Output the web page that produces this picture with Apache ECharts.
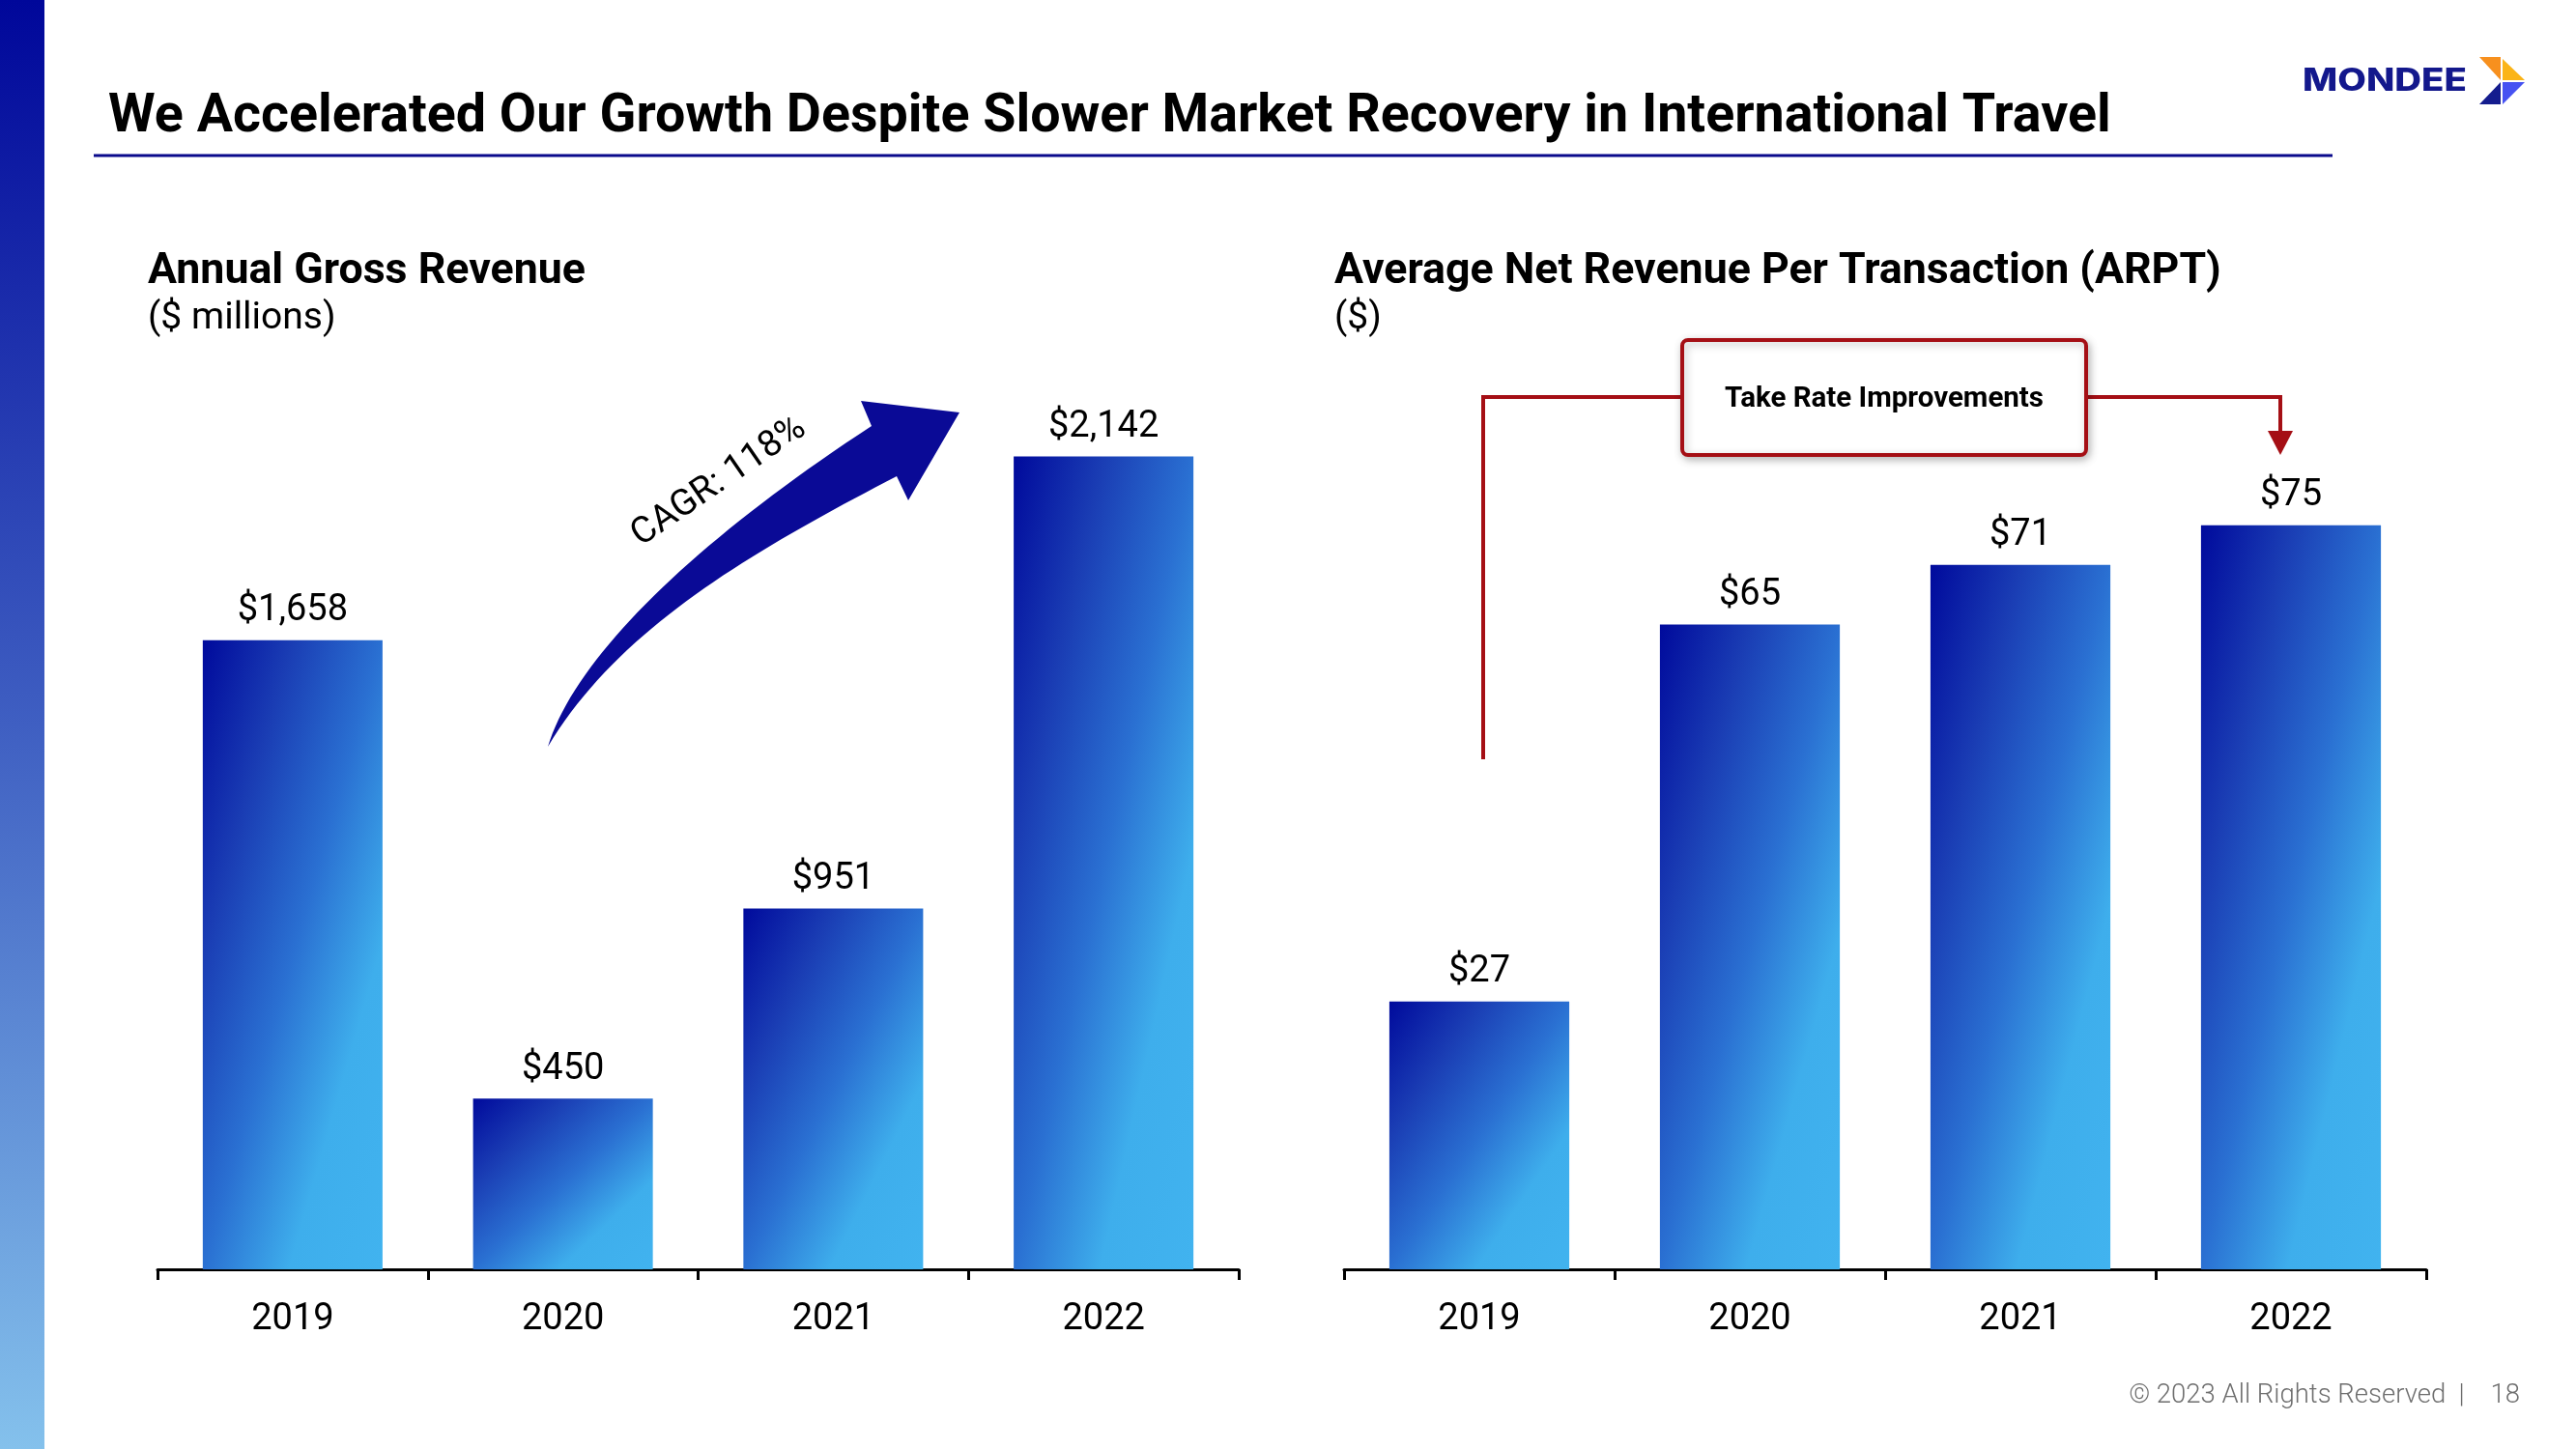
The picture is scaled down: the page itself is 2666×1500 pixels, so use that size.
<!DOCTYPE html>
<html><head><meta charset="utf-8">
<script src="https://cdn.jsdelivr.net/npm/echarts@6/dist/echarts.min.js"></script>
<style>html,body{margin:0;padding:0;background:#fff;} #c{width:2666px;height:1500px;}</style>
</head><body><div id="c"></div>
<script>
// ---- data ----
const years = ['2019', '2020', '2021', '2022'];
const grossRevenue = [1658, 450, 951, 2142];   // $ millions
const arpt = [27, 65, 71, 75];                  // $
const mainTitle = 'We Accelerated Our Growth Despite Slower Market Recovery in International Travel';
const leftTitle = 'Annual Gross Revenue';
const leftSub = '($ millions)';
const rightTitle = 'Average Net Revenue Per Transaction (ARPT)';
const rightSub = '($)';
const cagrText = 'CAGR: 118%';
const calloutText = 'Take Rate Improvements';
const footerText = '\u00A9 2023 All Rights Reserved  |    18';

const FONT = 'Roboto';
const barStops = [
  {offset: 0, color: '#000a9c'},
  {offset: 0.25, color: '#1a3db4'},
  {offset: 0.5, color: '#2a70d2'},
  {offset: 0.74, color: '#3eaeec'},
  {offset: 1, color: '#41b3ef'}
];
const RED = '#a50f15';

const chart = echarts.init(document.getElementById('c'), null, {renderer: 'canvas'});

function fmtMoney(v) { return '$' + Number(v).toLocaleString('en-US'); }

// cubic bezier sampler for the decorative CAGR arrow outline
function bez(p0, p1, p2, p3, n) {
  const out = [];
  for (let i = 0; i <= n; i++) {
    const t = i / n, u = 1 - t;
    out.push([
      u*u*u*p0[0] + 3*u*u*t*p1[0] + 3*u*t*t*p2[0] + t*t*t*p3[0],
      u*u*u*p0[1] + 3*u*u*t*p1[1] + 3*u*t*t*p2[1] + t*t*t*p3[1]
    ]);
  }
  return out;
}
const arrowPts = [].concat(
  bez([567, 773], [595, 680], [720, 560], [902, 441], 40),
  [[891, 415], [993, 427], [940, 518]],
  bez([928, 493], [780, 570], [640, 650], [567, 773], 40)
);

function xAx(gi) {
  return {
    type: 'category', gridIndex: gi, data: years,
    axisLine: {show: true, lineStyle: {color: '#000', width: 3}},
    axisTick: {show: true, length: 11, lineStyle: {color: '#000', width: 3}},
    axisLabel: {fontFamily: FONT, fontSize: 38, color: '#000', margin: 33}
  };
}
function yAx(gi, max) {
  return {type: 'value', gridIndex: gi, min: 0, max: max, show: false, splitLine: {show: false}};
}
function barSeries(data, idx) {
  return {
    type: 'bar', xAxisIndex: idx, yAxisIndex: idx, data: data, barWidth: '66.5%',
    itemStyle: {color: new echarts.graphic.LinearGradient(0, 0, 1, 1, barStops)},
    label: {show: true, position: 'top', distance: 11, fontFamily: FONT, fontSize: 38, color: '#000',
      formatter: p => fmtMoney(p.value)},
    emphasis: {disabled: true}, animation: false
  };
}

const option = {
  animation: false,
  backgroundColor: '#fff',
  textStyle: {fontFamily: FONT},
  title: [
    {text: mainTitle, left: 112, top: 89, padding: 0,
      textStyle: {fontFamily: FONT, fontSize: 55.6, fontWeight: 'bold', color: '#000', lineHeight: 66}},
    {text: leftTitle, subtext: leftSub, left: 153, top: 256, padding: 0, itemGap: -2,
      textStyle: {fontFamily: FONT, fontSize: 44.7, fontWeight: 'bold', color: '#000', lineHeight: 52},
      subtextStyle: {fontFamily: FONT, fontSize: 39, color: '#000', lineHeight: 48}},
    {text: rightTitle, subtext: rightSub, left: 1381, top: 256, padding: 0, itemGap: -2,
      textStyle: {fontFamily: FONT, fontSize: 44.7, fontWeight: 'bold', color: '#000', lineHeight: 52},
      subtextStyle: {fontFamily: FONT, fontSize: 39, color: '#000', lineHeight: 48}}
  ],
  grid: [
    {left: 163, right: 1384, top: 332, bottom: 186, containLabel: false, outerBoundsMode: 'none'},
    {left: 1391, right: 155, top: 287, bottom: 186, containLabel: false, outerBoundsMode: 'none'}
  ],
  xAxis: [xAx(0), xAx(1)],
  yAxis: [yAx(0, 2500), yAx(1, 100)],
  series: [barSeries(grossRevenue, 0), barSeries(arpt, 1)],
  graphic: [
    // left sidebar
    {type: 'rect', shape: {x: 0, y: 0, width: 46, height: 1500}, silent: true,
      style: {fill: new echarts.graphic.LinearGradient(0, 0, 0, 1, [
        {offset: 0, color: '#00079a'}, {offset: 0.5, color: '#3f5fc2'}, {offset: 1, color: '#84c1ec'}])}},
    // title underline
    {type: 'line', shape: {x1: 97, y1: 161, x2: 2414, y2: 161}, silent: true,
      style: {stroke: '#0a0a8c', lineWidth: 3}},
    // logo
    {type: 'text', x: 2383, y: 84, scaleX: 1.2, silent: true,
      style: {text: 'MONDEE', fontFamily: 'Inter', fontWeight: 800, fontSize: 32, fill: '#13188c',
        align: 'left', verticalAlign: 'middle'}},
    {type: 'polygon', shape: {points: [[2566, 59], [2588, 59], [2588, 83]]}, silent: true, style: {fill: '#f7901e'}},
    {type: 'polygon', shape: {points: [[2590, 61], [2613, 83], [2590, 83]]}, silent: true, style: {fill: '#fbb417'}},
    {type: 'polygon', shape: {points: [[2566, 108], [2588, 85], [2588, 108]]}, silent: true, style: {fill: '#141c8e'}},
    {type: 'polygon', shape: {points: [[2590, 85], [2613, 85], [2590, 108]]}, silent: true, style: {fill: '#4652f2'}},
    // CAGR arrow
    {type: 'polygon', silent: true, shape: {points: arrowPts}, style: {fill: '#0a0a96'}},
    {type: 'text', x: 744, y: 499, rotation: 0.6, silent: true,
      style: {text: cagrText, fontFamily: FONT, fontSize: 38, fill: '#000', align: 'center', verticalAlign: 'middle'}},
    // Take rate callout
    {type: 'polyline', silent: true, shape: {points: [[1741, 411], [1535, 411], [1535, 786]]},
      style: {stroke: RED, lineWidth: 4}},
    {type: 'polyline', silent: true, shape: {points: [[2159, 411], [2360, 411], [2360, 450]]},
      style: {stroke: RED, lineWidth: 4}},
    {type: 'polygon', silent: true, shape: {points: [[2347, 446], [2373, 446], [2360, 471]]}, style: {fill: RED}},
    {type: 'rect', silent: true, shape: {x: 1741, y: 352, width: 418, height: 119, r: 6},
      style: {fill: '#fff', stroke: RED, lineWidth: 4, shadowBlur: 8, shadowColor: 'rgba(0,0,0,0.25)', shadowOffsetX: 2, shadowOffsetY: 3}},
    {type: 'text', x: 1950, y: 414, silent: true,
      style: {text: calloutText, fontFamily: FONT, fontWeight: 'bold', fontSize: 29.5, fill: '#000', align: 'center', verticalAlign: 'middle'}},
    // footer
    {type: 'text', x: 2608, y: 1445, silent: true,
      style: {text: footerText, fontFamily: FONT, fontWeight: 300, fontSize: 27.5, fill: '#6e6e6e', align: 'right', verticalAlign: 'middle'}}
  ]
};
chart.setOption(option);

// per-bar gradient so that it scales with each bar's box (diagonal isolines)
function gradData(values, gi) {
  const p0 = chart.convertToPixel({gridIndex: gi}, [0, 0]);
  const p1 = chart.convertToPixel({gridIndex: gi}, [1, 0]);
  const w = (p1[0] - p0[0]) * 0.665;
  return values.map((v, i) => {
    const top = chart.convertToPixel({gridIndex: gi}, [i, v])[1];
    const h = p0[1] - top;
    const d = h * h + w * w;
    return {value: v, itemStyle: {color: new echarts.graphic.LinearGradient(0, 0, 2 * h * h / d, 2 * w * w / d, barStops)}};
  });
}
chart.setOption({series: [{data: gradData(grossRevenue, 0)}, {data: gradData(arpt, 1)}]});
</script>
</body></html>
